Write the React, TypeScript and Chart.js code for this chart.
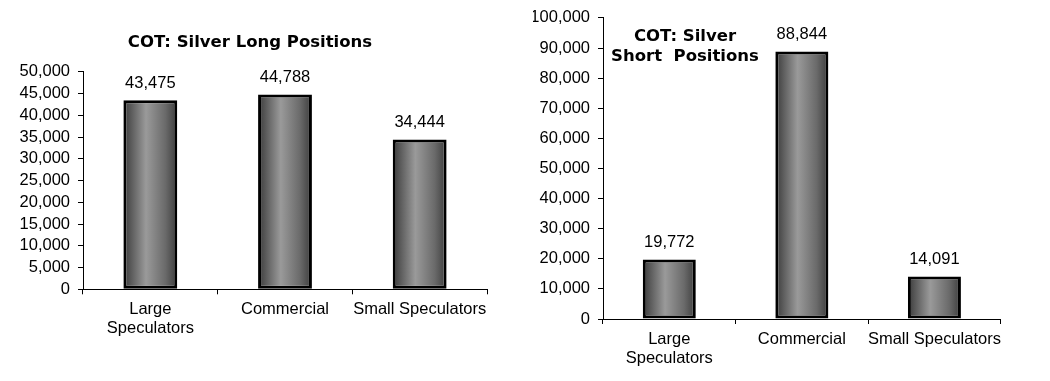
import React, { useEffect, useRef } from "react";
import { Chart, registerables } from "chart.js";

Chart.register(...registerables);

const categories: (string | string[])[] = [["Large", "Speculators"], "Commercial", "Small Speculators"];
const longValues = [43475, 44788, 34444];
const shortValues = [19772, 88844, 14091];
const longTitle = "COT: Silver Long Positions";
const shortTitleLines = ["COT: Silver", "Short  Positions"];
const longAxisMax = 50000;
const longAxisStep = 5000;
const shortAxisMax = 100000;
const shortAxisStep = 10000;

const fmt = (v: number) => Number(v).toLocaleString("en-US");
const TICK_FONT = { family: "'Liberation Sans', Arial, sans-serif", size: 16.5 };
const TITLE_FONT = "bold 16.5px 'DejaVu Sans', Verdana, sans-serif";

const barGradient = (ctx: any) => {
  const chart = ctx.chart;
  const xs = chart.scales?.x;
  if (!chart.chartArea || !xs) return "#777777";
  const cx = xs.getPixelForValue(ctx.dataIndex);
  const half = (xs.width / categories.length) * 0.4 / 2;
  const g = chart.ctx.createLinearGradient(cx - half, 0, cx + half, 0);
  g.addColorStop(0, "#3a3a3a");
  g.addColorStop(0.42, "#9a9a9a");
  g.addColorStop(0.78, "#6a6a6a");
  g.addColorStop(1, "#3c3c3c");
  return g;
};

const valueLabels = {
  id: "valueLabels",
  afterDatasetsDraw(chart: any) {
    const c = chart.ctx;
    const meta = chart.getDatasetMeta(0);
    const data = chart.data.datasets[0].data;
    c.save();
    c.font = "16.5px 'Liberation Sans', Arial, sans-serif";
    c.fillStyle = "#000";
    c.textAlign = "center";
    c.textBaseline = "middle";
    meta.data.forEach((bar: any, i: number) => {
      c.fillText(fmt(data[i]), bar.x, bar.y - 17);
    });
    c.restore();
  },
};

const innerTitle = {
  id: "innerTitle",
  afterDraw(chart: any, _args: any, opts: any) {
    if (!opts || !opts.lines) return;
    const c = chart.ctx;
    const ca = chart.chartArea;
    c.save();
    c.font = TITLE_FONT;
    c.fillStyle = "#000";
    c.textAlign = "center";
    c.textBaseline = "middle";
    opts.lines.forEach((l: string, i: number) => {
      c.fillText(l, ca.left + 82, ca.top + 19 + i * 20);
    });
    c.restore();
  },
};

function makeConfig(values: number[], max: number, step: number, extra: any): any {
  return {
    type: "bar",
    data: {
      labels: categories,
      datasets: [
        {
          data: values,
          backgroundColor: barGradient,
          borderColor: "#000",
          borderWidth: 3,
          borderSkipped: false,
          categoryPercentage: 1,
          barPercentage: 0.4,
        },
      ],
    },
    options: {
      responsive: false,
      animation: false,
      layout: { padding: extra.padding },
      plugins: {
        legend: { display: false },
        tooltip: { enabled: false },
        title: extra.title,
        innerTitle: extra.innerTitle || {},
      },
      scales: {
        x: {
          offset: true,
          grid: { drawOnChartArea: false, drawTicks: true, tickLength: 5, color: "#000", offset: true },
          border: { display: true, color: "#000", width: 1 },
          ticks: {
            font: { ...TICK_FONT, lineHeight: "19px" },
            color: "#000",
            padding: 6,
            autoSkip: false,
            maxRotation: 0,
            minRotation: 0,
          },
          afterFit: (s: any) => {
            s.height = 55;
          },
        },
        y: {
          min: 0,
          max,
          grid: { drawOnChartArea: false, drawTicks: true, tickLength: 5, color: "#000" },
          border: { display: true, color: "#000", width: 1 },
          ticks: {
            stepSize: step,
            font: TICK_FONT,
            color: "#000",
            padding: 8,
            autoSkip: false,
            callback: (v: any) => fmt(v),
          },
          afterFit: (s: any) => {
            s.width = 70;
          },
        },
      },
    },
    plugins: [valueLabels, innerTitle],
  };
}

function BarChart({ config, width, height, left }: any) {
  const ref = useRef<HTMLCanvasElement>(null);
  useEffect(() => {
    const chart = new Chart(ref.current as HTMLCanvasElement, config);
    return () => chart.destroy();
  }, []);
  return (
    <canvas
      ref={ref}
      width={width}
      height={height}
      style={{ position: "absolute", left, top: 0, width, height }}
    />
  );
}

export default function App() {
  const longConfig = makeConfig(longValues, longAxisMax, longAxisStep, {
    padding: { left: 13, right: 33, top: 0, bottom: 36.7 },
    title: {
      display: true,
      text: longTitle,
      color: "#000",
      font: { family: "'DejaVu Sans', Verdana, sans-serif", size: 16.5, weight: "bold", lineHeight: 1.2 },
      padding: { top: 33, bottom: 19 },
    },
  });
  const shortConfig = makeConfig(shortValues, shortAxisMax, shortAxisStep, {
    padding: { left: 13, right: 49.3, top: 12.3, bottom: 7 },
    title: { display: false },
    innerTitle: { lines: shortTitleLines },
  });
  return (
    <div style={{ position: "absolute", left: 0, top: 0, width: 1050, height: 381, background: "#fff" }}>
      <BarChart config={longConfig} width={520} height={381} left={0} />
      <BarChart config={shortConfig} width={530} height={381} left={520} />
    </div>
  );
}
